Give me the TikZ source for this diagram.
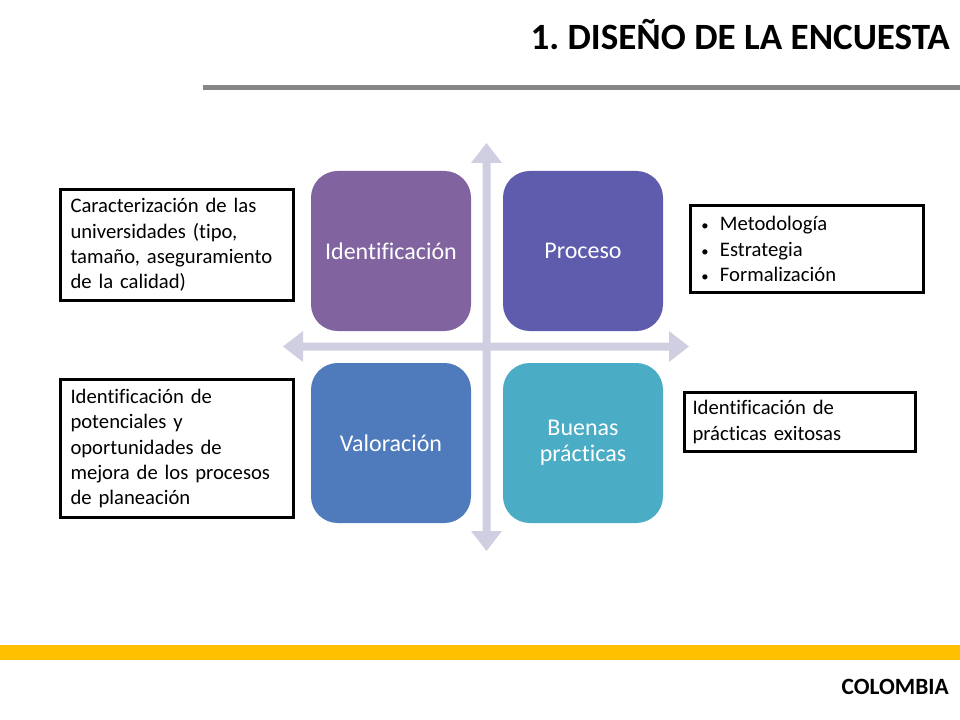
\documentclass[tikz,border=0pt]{standalone}
\usepackage{fontspec}
\setmainfont{Carlito}[Ligatures=NoCommon]
\definecolor{axisgray}{HTML}{D0CFE2}
\definecolor{tilea}{HTML}{80639F}
\definecolor{tileb}{HTML}{5F5BAD}
\definecolor{tilec}{HTML}{4F7ABB}
\definecolor{tiled}{HTML}{4BACC6}
\definecolor{rulegray}{HTML}{868686}
\definecolor{rulegold}{HTML}{FFC000}
\newcommand{\noteitem}[1]{\makebox[14.6pt][l]{\fontsize{11}{11}\selectfont\hspace{0.6pt}•}#1}
\tikzset{
  tile/.style={rounded corners=20pt,minimum width=120pt,minimum height=120pt,
    text width=110pt,align=center,text=white,inner sep=0pt,
    font=\fontsize{18}{20}\selectfont},
  note/.style={draw=black,line width=2.25pt,inner xsep=7.5pt,inner ysep=0pt,
    align=left,font=\fontsize{15.5}{19}\selectfont\frenchspacing},
}
\begin{document}
\begin{tikzpicture}[x=0.75pt,y=-0.75pt]
    \useasboundingbox (0,0) rectangle (960,720);

    % header and footer
    \node[anchor=east,font=\fontsize{27.8}{30}\bfseries\selectfont\frenchspacing,inner sep=0pt] (title) at (950,35) {1. DISEÑO DE LA ENCUESTA};
    \fill[rulegray] (203,85) rectangle (960,90);
    \fill[rulegold] (0,645) rectangle (960,660);
    \node[anchor=east,font=\fontsize{17.5}{19}\bfseries\selectfont,inner sep=0pt] (country) at (949,687) {COLOMBIA};

    % axes
    \fill[axisgray] (482.5,163) -- (471,163) -- (486.5,143) -- (502,163) -- (490.5,163)
        -- (490.5,531) -- (502,531) -- (486.5,551) -- (471,531) -- (482.5,531) -- cycle;
    \fill[axisgray] (303,342.5) -- (303,331) -- (283,346.5) -- (303,362) -- (303,350.5)
        -- (669,350.5) -- (669,362) -- (689,346.5) -- (669,331) -- (669,342.5) -- cycle;

    % tiles
    \node[tile,fill=tilea] (ident) at (391,251) {Identificación};
    \node[tile,fill=tileb] (proceso) at (583,251) {Proceso};
    \node[tile,fill=tilec] (valor) at (391,443) {Valoración};
    \node[tile,fill=tiled,font=\fontsize{18}{19.8}\selectfont] (buenas) at (583,443) {Buenas\\prácticas};

    % notes
    \node[note,minimum width=174.75pt,text width=159.75pt,minimum height=83.25pt] (caract) at (177,245)
        {Caracterización de las\\universidades (tipo,\\tamaño, aseguramiento\\de la calidad)};
    \node[note,minimum width=174.75pt,text width=159.75pt,minimum height=103.5pt] (potenc) at (177,448.5)
        {Identificación de\\potenciales y\\oportunidades de\\mejora de los procesos\\de planeación};
    \node[note,minimum width=174.75pt,text width=159.75pt,minimum height=65.25pt] (metod) at (807,249)
        {\noteitem{Metodología}\\\noteitem{Estrategia}\\\noteitem{Formalización}};
    \node[note,inner xsep=6pt,minimum width=173.25pt,text width=161.25pt,minimum height=44.25pt] (practicas) at (800,422)
        {Identificación de\\prácticas exitosas};
\end{tikzpicture}
\end{document}
